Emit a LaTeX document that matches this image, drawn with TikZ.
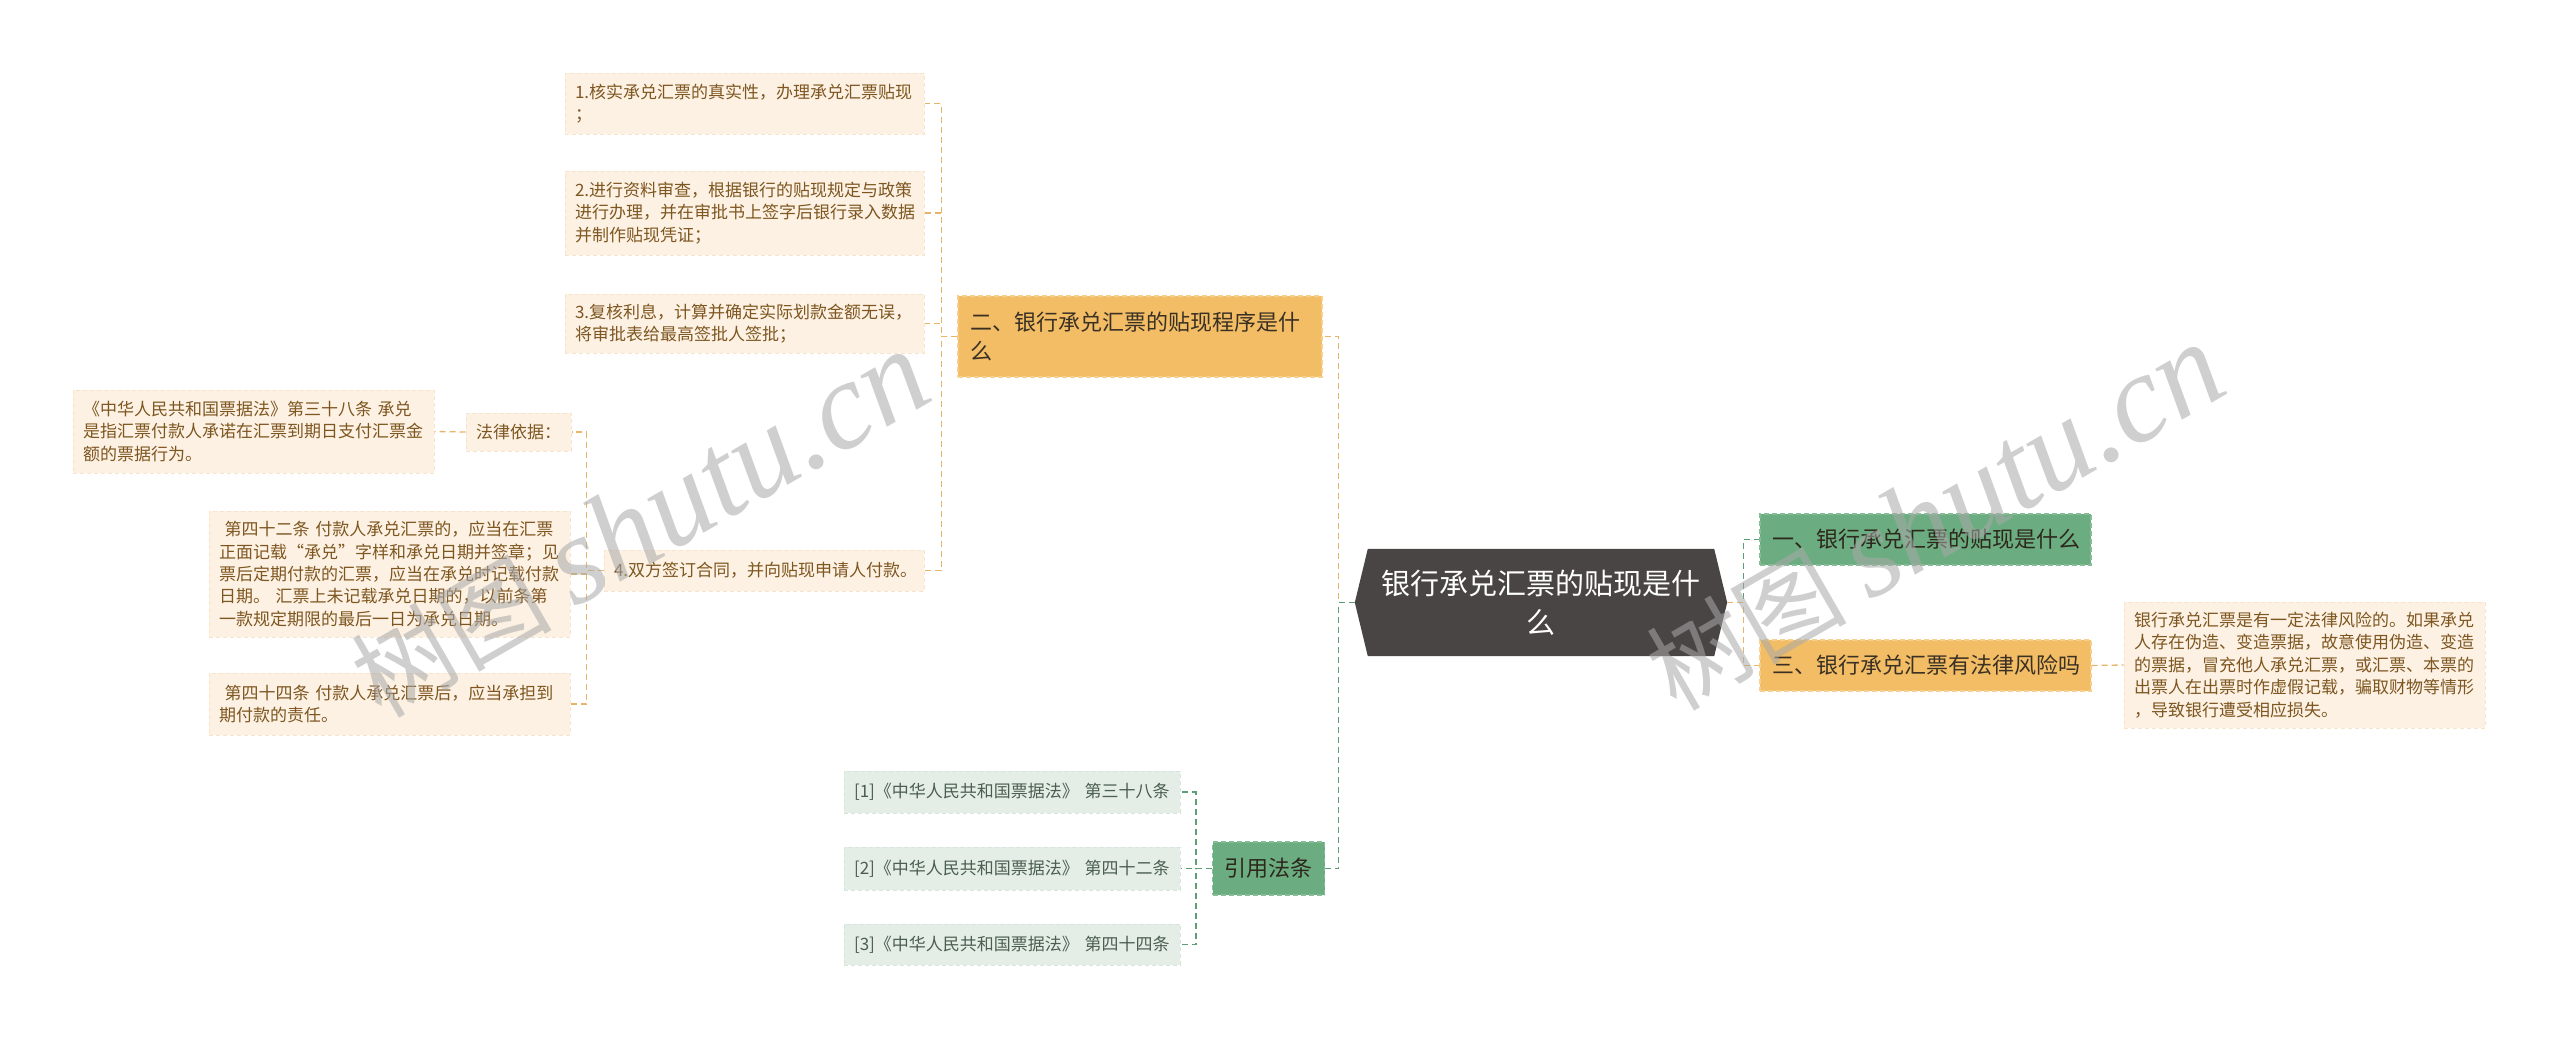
\documentclass[tikz,border=0pt]{standalone}
\usepackage{fontspec}
\setmainfont{Noto Sans CJK SC}
\newfontfamily\wmfont{Liberation Serif}
\usetikzlibrary{backgrounds}
\definecolor{leaffill}{HTML}{FDF1E3}
\definecolor{leafborder}{HTML}{F8E4CC}
\definecolor{leaftext}{HTML}{7D5620}
\definecolor{orfill}{HTML}{F2BD65}
\definecolor{orborder}{HTML}{F6CF8C}
\definecolor{orline}{HTML}{E8B468}
\definecolor{grfill}{HTML}{6BAD80}
\definecolor{grborder}{HTML}{86BD97}
\definecolor{grline}{HTML}{5E9E73}
\definecolor{citefill}{HTML}{E4EEE6}
\definecolor{citeborder}{HTML}{D6E6DA}
\definecolor{citetext}{HTML}{4B5E50}
\definecolor{centralfill}{HTML}{4A4545}
\definecolor{maintext}{HTML}{3A3024}
\definecolor{wmgray}{HTML}{A8A8A8}
\tikzset{
  base/.style={inner xsep=10pt, inner ysep=6pt, anchor=center, align=left},
  leaf/.style={base, fill=leaffill, draw=leafborder, line width=1pt, dash pattern=on 4pt off 3pt, text=leaftext, font=\fontsize{17}{22.4}\selectfont},
  orbox/.style={base, fill=orfill, draw=orborder, line width=1.2pt, dash pattern=on 5pt off 3pt, text=maintext, inner xsep=12pt, font=\fontsize{22}{29}\selectfont},
  grbox/.style={base, fill=grfill, draw=grborder, line width=1.2pt, dash pattern=on 5pt off 3pt, text=maintext!80!black, inner xsep=12pt, font=\fontsize{22}{29}\selectfont},
  citebox/.style={base, fill=citefill, draw=citeborder, line width=1pt, dash pattern=on 4pt off 3pt, text=citetext, font=\fontsize{17}{22}\selectfont},
  oline/.style={draw=orline, line width=1.3pt, dash pattern=on 6pt off 4pt},
  gline/.style={draw=grline, line width=1.3pt, dash pattern=on 6pt off 4pt},
  wm/.style={text=wmgray, opacity=0.55, inner sep=0pt},
}
\begin{document}
\begin{tikzpicture}[x=1pt,y=-1pt]
\useasboundingbox (0,0) rectangle (2560,1039);

% central node
\node[base, align=center, text=white, minimum width=372pt, minimum height=107pt, text width=330pt, font=\fontsize{29}{39}\selectfont] (c) at (1541,602.5) {银行承兑汇票的贴现是什\\么};
\begin{scope}[on background layer]
\fill[white] (0,0) rectangle (2560,1039);
\fill[centralfill] (c.west) -- ([xshift=13pt]c.north west) -- ([xshift=-13pt]c.north east) -- (c.east) -- ([xshift=-13pt]c.south east) -- ([xshift=13pt]c.south west) -- cycle;
\end{scope}

% main branches
\node[orbox, minimum width=364pt, minimum height=81pt, text width=340pt] (n2) at (1140,336.5) {二、银行承兑汇票的贴现程序是什\\么};
\node[grbox, minimum width=331pt, minimum height=51pt, text width=307pt] (n1) at (1925.5,539.5) {一、银行承兑汇票的贴现是什么};
\node[orbox, minimum width=331pt, minimum height=51pt, text width=307pt] (n3) at (1925.5,665.5) {三、银行承兑汇票有法律风险吗};
\node[grbox, align=center, minimum width=111pt, minimum height=53pt] (cite) at (1268.5,868.5) {引用法条};

% steps
\node[leaf, minimum width=359pt, minimum height=61pt, text width=339pt] (b1) at (744.5,103.5) {1.核实承兑汇票的真实性，办理承兑汇票贴现\\；};
\node[leaf, minimum width=359pt, minimum height=84pt, text width=339pt] (b2) at (744.5,213) {2.进行资料审查，根据银行的贴现规定与政策\\进行办理，并在审批书上签字后银行录入数据\\并制作贴现凭证；};
\node[leaf, minimum width=359pt, minimum height=59pt, text width=339pt] (b3) at (744.5,323.5) {3.复核利息，计算并确定实际划款金额无误，\\将审批表给最高签批人签批；};
\node[leaf, minimum width=320pt, minimum height=41pt, text width=300pt] (b4) at (764,570.5) {4.双方签订合同，并向贴现申请人付款。};

% legal basis
\node[leaf, minimum width=103pt, minimum height=38pt] (law) at (518.5,432) {法律依据：};
\node[leaf, minimum width=361pt, minimum height=83pt, text width=341pt] (b38) at (253.5,431.5) {《中华人民共和国票据法》第三十八条 承兑\\是指汇票付款人承诺在汇票到期日支付汇票金\\额的票据行为。};
\node[leaf, minimum width=361pt, minimum height=126pt, text width=341pt] (b42) at (389.5,574) {\ 第四十二条 付款人承兑汇票的，应当在汇票\\正面记载“承兑”字样和承兑日期并签章；见\\票后定期付款的汇票，应当在承兑时记载付款\\日期。 汇票上未记载承兑日期的，以前条第\\一款规定期限的最后一日为承兑日期。};
\node[leaf, minimum width=361pt, minimum height=62pt, text width=341pt] (b44) at (389.5,704) {\ 第四十四条 付款人承兑汇票后，应当承担到\\期付款的责任。};

% risk
\node[leaf, minimum width=361pt, minimum height=126pt, text width=341pt] (risk) at (2304.5,665) {银行承兑汇票是有一定法律风险的。如果承兑\\人存在伪造、变造票据，故意使用伪造、变造\\的票据，冒充他人承兑汇票，或汇票、本票的\\出票人在出票时作虚假记载，骗取财物等情形\\，导致银行遭受相应损失。};

% citations
\node[citebox, minimum width=336pt, minimum height=42pt, text width=316pt] (r1) at (1012,792) {[1]《中华人民共和国票据法》 第三十八条};
\node[citebox, minimum width=336pt, minimum height=43pt, text width=316pt] (r2) at (1012,868.5) {[2]《中华人民共和国票据法》 第四十二条};
\node[citebox, minimum width=336pt, minimum height=41pt, text width=316pt] (r3) at (1012,944.5) {[3]《中华人民共和国票据法》 第四十四条};

% connectors
\draw[oline] (c.west) -- ++(-16,0) |- (n2.east);
\draw[gline] (c.west) -- ++(-16,0) |- (cite.east);
\draw[gline] (c.east) -- ++(16,0) |- (n1.west);
\draw[oline] (c.east) -- ++(16,0) |- (n3.west);
\draw[oline] (n2.west) -- ++(-16,0) |- (b1.east);
\draw[oline] (n2.west) -- ++(-16,0) |- (b2.east);
\draw[oline] (n2.west) -- ++(-16,0) |- (b3.east);
\draw[oline] (n2.west) -- ++(-16,0) |- (b4.east);
\draw[oline] (b4.west) -- ++(-17,0) |- (law.east);
\draw[oline] (b4.west) -- ++(-17,0) |- (b42.east);
\draw[oline] (b4.west) -- ++(-17,0) |- (b44.east);
\draw[oline] (law.west) -- (b38.east);
\draw[oline] (n3.east) -- (risk.west);
\draw[gline] (cite.west) -- ++(-16,0) |- (r1.east);
\draw[gline] (cite.west) -- ++(-16,0) |- (r2.east);
\draw[gline] (cite.west) -- ++(-16,0) |- (r3.east);

% watermarks
\node[wm, rotate=30, font=\fontsize{100}{100}\selectfont] (wm1) at (640,525) {树图 {\wmfont\itshape\fontsize{125}{125}\selectfont shutu.cn}};
\node[wm, rotate=30, font=\fontsize{100}{100}\selectfont] (wm2) at (1935,518) {树图 {\wmfont\itshape\fontsize{125}{125}\selectfont shutu.cn}};
\end{tikzpicture}
\end{document}
